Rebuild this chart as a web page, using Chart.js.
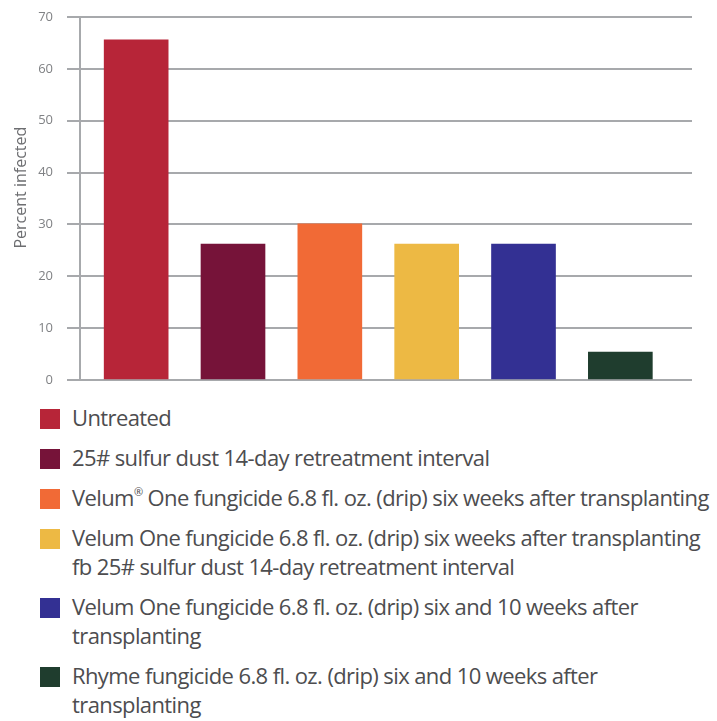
<!DOCTYPE html>
<html>
<head>
<meta charset="utf-8">
<script src="https://cdn.jsdelivr.net/npm/chart.js@4.4.1/dist/chart.umd.min.js"></script>
<style>
  body { margin: 0; background: #fff; }
  #wrap { position: relative; width: 717px; height: 721px; overflow: hidden; }
  #chart-box { position: absolute; left: 0; top: 0; width: 717px; height: 395px; }
  #legend { position: absolute; left: 40px; top: 403px; width: 677px; }
  .item { display: flex; align-items: flex-start; margin-bottom: 11px; }
  .swatch { width: 20px; height: 20px; margin-top: 6px; margin-right: 12px; flex: none; }
  .text { font-family: "Open Sans", sans-serif; font-size: 22px; line-height: 29px;
          color: #4d4d4f; white-space: nowrap; letter-spacing: -0.6px; }
  .text sup { font-size: 0.5em; vertical-align: 0.9em; line-height: 0; }
</style>
</head>
<body>
<div id="wrap">
  <div id="chart-box"><canvas id="bar-chart" width="717" height="395"></canvas></div>
  <div id="legend"></div>
</div>
<script>
// treatments, each one a list of legend lines
const treatments = [
  ["Untreated"],
  ["25# sulfur dust 14-day retreatment interval"],
  ["Velum® One fungicide 6.8 fl. oz. (drip) six weeks after transplanting"],
  ["Velum One fungicide 6.8 fl. oz. (drip) six weeks after transplanting", "fb 25# sulfur dust 14-day retreatment interval"],
  ["Velum One fungicide 6.8 fl. oz. (drip) six and 10 weeks after", "transplanting"],
  ["Rhyme fungicide 6.8 fl. oz. (drip) six and 10 weeks after", "transplanting"]
];
const percentInfected = [65.6, 26.2, 30.1, 26.2, 26.2, 5.4];
const barColors = ["#b72538", "#761339", "#f16a36", "#edb944", "#333093", "#1f3d2e"];
const yTicks = [0, 10, 20, 30, 40, 50, 60, 70];
const yTitle = "Percent infected";

const gridGrey = "#a7a9ac";

// y title sits a little above the middle of the axis in the original
const yTitlePlugin = {
  id: "yTitle",
  afterDraw(chart) {
    const ctx = chart.ctx;
    const area = chart.chartArea;
    ctx.save();
    ctx.translate(21, area.top + (area.bottom - area.top) * 0.47);
    ctx.rotate(-Math.PI / 2);
    ctx.font = "16px 'Open Sans'";
    ctx.fillStyle = "#6d6e71";
    ctx.textAlign = "center";
    ctx.textBaseline = "middle";
    ctx.fillText(yTitle, 0, 0);
    ctx.restore();
  }
};

// bar chart on a linear x so the bar spacing can follow the original
const chart = new Chart(document.getElementById("bar-chart").getContext("2d"), {
  type: "bar",
  data: {
    datasets: [{
      data: percentInfected.map((v, i) => ({ x: i, y: v })),
      backgroundColor: barColors,
      barThickness: 64,
      borderWidth: 0
    }]
  },
  options: {
    responsive: false,
    animation: false,
    layout: { padding: { top: 17, right: 25, bottom: 15, left: 0 } },
    plugins: { legend: { display: false }, tooltip: { enabled: false } },
    scales: {
      x: { type: "linear", offset: false, min: -0.58, max: 5.74, display: false },
      y: {
        min: yTicks[0],
        max: yTicks[yTicks.length - 1],
        afterBuildTicks(scale) { scale.ticks = yTicks.map(v => ({ value: v })); },
        afterFit(scale) {
          scale.width = 80;
          scale.paddingTop = 0;
          scale.paddingBottom = 0;
        },
        ticks: {
          color: "#808285",
          padding: 14,
          font: { family: "Open Sans", size: 13 }
        },
        grid: { color: gridGrey, lineWidth: 2, tickLength: 13, drawTicks: true },
        border: { display: true, color: gridGrey, width: 2 },
        title: { display: false }
      }
    }
  },
  plugins: [yTitlePlugin]
});

// html legend, one row per treatment
const legend = document.getElementById("legend");
treatments.forEach((lines, i) => {
  const item = document.createElement("div");
  item.className = "item";
  const sw = document.createElement("div");
  sw.className = "swatch";
  sw.style.background = barColors[i];
  const txt = document.createElement("div");
  txt.className = "text";
  txt.innerHTML = lines.map(l => l.replace("®", "<sup>®</sup>")).join("<br>");
  item.appendChild(sw);
  item.appendChild(txt);
  legend.appendChild(item);
});
</script>
</body>
</html>
